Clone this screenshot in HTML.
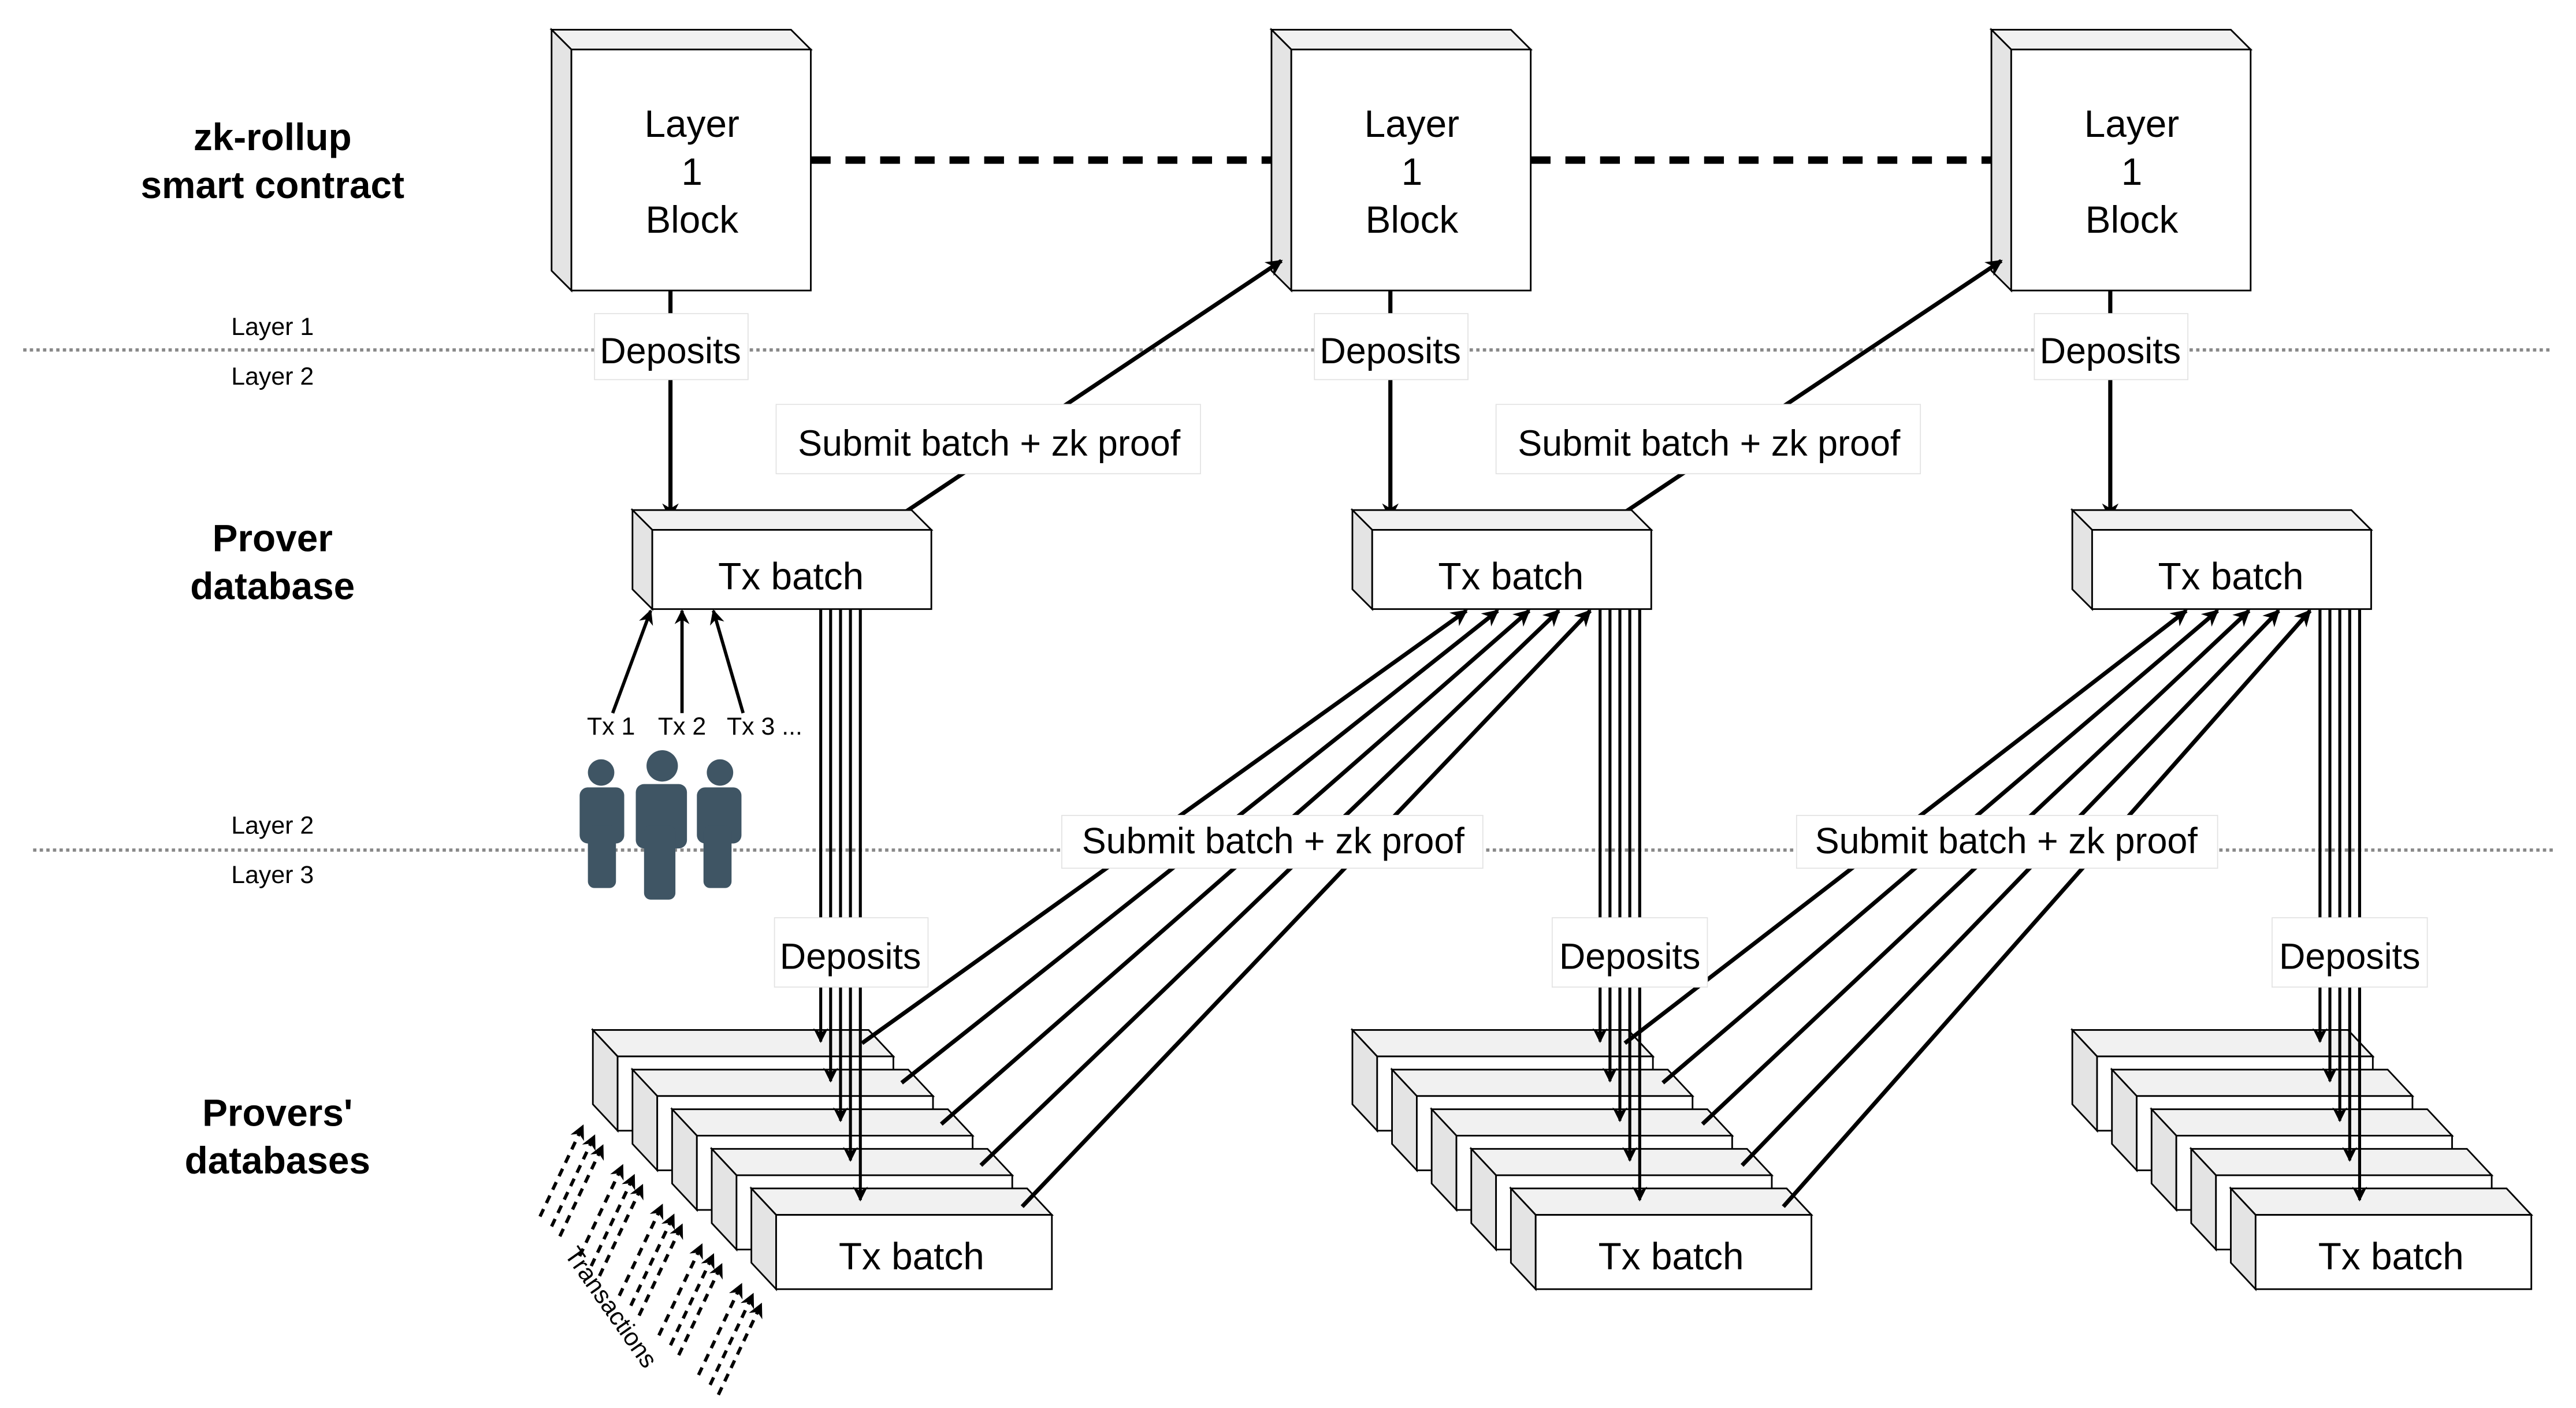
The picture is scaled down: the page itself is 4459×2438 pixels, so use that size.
<!DOCTYPE html>
<html><head><meta charset="utf-8"><style>html,body{margin:0;padding:0;background:#fff}svg{display:block}</style></head>
<body>
<svg xmlns="http://www.w3.org/2000/svg" width="4459" height="2438" viewBox="0 0 1560 853" font-family="Liberation Sans, Arial, sans-serif">
<defs>
<marker id="a" viewBox="0 0 10 10" refX="9" refY="5" markerWidth="10" markerHeight="10" markerUnits="userSpaceOnUse" orient="auto"><path d="M0,0 L10,5 L0,10 L3,5 z" fill="#000"/></marker>
<marker id="as" viewBox="0 0 10 10" refX="9" refY="5" markerWidth="9" markerHeight="9" markerUnits="userSpaceOnUse" orient="auto"><path d="M0,0 L10,5 L0,10 L3,5 z" fill="#000"/></marker>
</defs>
<rect width="1560" height="853" fill="#fff"/>

<!-- dotted layer separators -->
<line x1="14" y1="212" x2="1546" y2="212" stroke="#888" stroke-width="2" stroke-dasharray="2 2"/>
<line x1="20" y1="515" x2="1546" y2="515" stroke="#888" stroke-width="2" stroke-dasharray="2 2"/>

<!-- left headings -->
<g font-weight="bold" font-size="23" text-anchor="middle" fill="#000">
<text x="165" y="91">zk-rollup</text>
<text x="165" y="120">smart contract</text>
<text x="165" y="334">Prover</text>
<text x="165" y="363">database</text>
<text x="168" y="682">Provers'</text>
<text x="168" y="711">databases</text>
</g>
<g font-size="15" text-anchor="middle">
<text x="165" y="203">Layer 1</text>
<text x="165" y="233">Layer 2</text>
<text x="165" y="505">Layer 2</text>
<text x="165" y="535">Layer 3</text>
</g>

<!-- dashed chain -->
<line x1="491" y1="97" x2="773" y2="97" stroke="#000" stroke-width="4.5" stroke-dasharray="12 9"/>
<circle cx="776" cy="97" r="4.5"/>
<line x1="927" y1="97" x2="1209" y2="97" stroke="#000" stroke-width="4.5" stroke-dasharray="12 9"/>
<circle cx="1212" cy="97" r="4.5"/>

<!-- Layer 1 blocks -->
<g stroke="#000" stroke-width="1">
<g>
<polygon points="334,18 479,18 491,30 346,30" fill="#f1f1f1"/>
<polygon points="334,18 346,30 346,176 334,164" fill="#e4e4e4"/>
<rect x="346" y="30" width="145" height="146" fill="#fff"/>
</g>
<g>
<polygon points="770,18 915,18 927,30 782,30" fill="#f1f1f1"/>
<polygon points="770,18 782,30 782,176 770,164" fill="#e4e4e4"/>
<rect x="782" y="30" width="145" height="146" fill="#fff"/>
</g>
<g>
<polygon points="1206,18 1351,18 1363,30 1218,30" fill="#f1f1f1"/>
<polygon points="1206,18 1218,30 1218,176 1206,164" fill="#e4e4e4"/>
<rect x="1218" y="30" width="145" height="146" fill="#fff"/>
</g>
</g>
<g font-size="23" text-anchor="middle">
<text x="419" y="83">Layer</text><text x="419" y="112">1</text><text x="419" y="141">Block</text>
<text x="855" y="83">Layer</text><text x="855" y="112">1</text><text x="855" y="141">Block</text>
<text x="1291" y="83">Layer</text><text x="1291" y="112">1</text><text x="1291" y="141">Block</text>
</g>

<!-- deposits arrows L1 -> prover -->
<g stroke="#000" stroke-width="2.5" marker-end="url(#a)">
<line x1="406" y1="176" x2="406" y2="314"/>
<line x1="842" y1="176" x2="842" y2="314"/>
<line x1="1278" y1="176" x2="1278" y2="314"/>
<line x1="541" y1="315" x2="776" y2="158"/>
<line x1="977" y1="315" x2="1212" y2="158"/>
</g>

<!-- prover Tx batch -->
<g stroke="#000" stroke-width="1">
<g>
<polygon points="383,309 552,309 564,321 395,321" fill="#f1f1f1"/>
<polygon points="383,309 395,321 395,369 383,357" fill="#e4e4e4"/>
<rect x="395" y="321" width="169" height="48" fill="#fff"/>
</g>
<g>
<polygon points="819,309 988,309 1000,321 831,321" fill="#f1f1f1"/>
<polygon points="819,309 831,321 831,369 819,357" fill="#e4e4e4"/>
<rect x="831" y="321" width="169" height="48" fill="#fff"/>
</g>
<g>
<polygon points="1255,309 1424,309 1436,321 1267,321" fill="#f1f1f1"/>
<polygon points="1255,309 1267,321 1267,369 1255,357" fill="#e4e4e4"/>
<rect x="1267" y="321" width="169" height="48" fill="#fff"/>
</g>
</g>
<g font-size="23" text-anchor="middle">
<text x="479" y="357">Tx batch</text>
<text x="915" y="357">Tx batch</text>
<text x="1351" y="357">Tx batch</text>
</g>

<!-- labels upper -->
<g fill="#fff" stroke="#e2e2e2" stroke-width="0.6">
<rect x="360" y="190" width="93" height="40"/>
<rect x="796" y="190" width="93" height="40"/>
<rect x="1232" y="190" width="93" height="40"/>
<rect x="470" y="245" width="257" height="42"/>
<rect x="906" y="245" width="257" height="42"/>
</g>
<g font-size="22" text-anchor="middle">
<text x="406" y="220">Deposits</text>
<text x="842" y="220">Deposits</text>
<text x="1278" y="220">Deposits</text>
<text x="599" y="276">Submit batch + zk proof</text>
<text x="1035" y="276">Submit batch + zk proof</text>
</g>

<!-- Tx arrows & users -->
<g stroke="#000" stroke-width="2" marker-end="url(#as)">
<line x1="371" y1="432" x2="394" y2="370"/>
<line x1="413" y1="432" x2="413" y2="370"/>
<line x1="450" y1="432" x2="432" y2="370"/>
</g>
<g font-size="15" text-anchor="middle">
<text x="370" y="445">Tx 1</text>
<text x="413" y="445">Tx 2</text>
<text x="463" y="445">Tx 3 ...</text>
</g>
<g fill="#3f5564">
<circle cx="364" cy="468" r="8"/>
<rect x="351" y="477" width="27" height="34" rx="5"/>
<rect x="356" y="500" width="17" height="38" rx="4"/>
<circle cx="401" cy="464" r="9.5"/>
<rect x="385" y="475" width="31" height="39" rx="5"/>
<rect x="390" y="500" width="19" height="45" rx="4"/>
<circle cx="436" cy="468" r="8"/>
<rect x="422" y="477" width="27" height="34" rx="5"/>
<rect x="426" y="500" width="17" height="38" rx="4"/>
</g>

<!-- stacked boxes: template per column -->
<g stroke="#000" stroke-width="1">
<!-- col1 -->
<g transform="translate(359,624)"><polygon points="0,0 167,0 182,16 15,16" fill="#f1f1f1"/><polygon points="0,0 15,16 15,61 0,45" fill="#e4e4e4"/><rect x="15" y="16" width="167" height="45" fill="#fff"/></g>
<g transform="translate(383,648)"><polygon points="0,0 167,0 182,16 15,16" fill="#f1f1f1"/><polygon points="0,0 15,16 15,61 0,45" fill="#e4e4e4"/><rect x="15" y="16" width="167" height="45" fill="#fff"/></g>
<g transform="translate(407,672)"><polygon points="0,0 167,0 182,16 15,16" fill="#f1f1f1"/><polygon points="0,0 15,16 15,61 0,45" fill="#e4e4e4"/><rect x="15" y="16" width="167" height="45" fill="#fff"/></g>
<g transform="translate(431,696)"><polygon points="0,0 167,0 182,16 15,16" fill="#f1f1f1"/><polygon points="0,0 15,16 15,61 0,45" fill="#e4e4e4"/><rect x="15" y="16" width="167" height="45" fill="#fff"/></g>
<g transform="translate(455,720)"><polygon points="0,0 167,0 182,16 15,16" fill="#f1f1f1"/><polygon points="0,0 15,16 15,61 0,45" fill="#e4e4e4"/><rect x="15" y="16" width="167" height="45" fill="#fff"/></g>
<!-- col2 -->
<g transform="translate(819,624)"><polygon points="0,0 167,0 182,16 15,16" fill="#f1f1f1"/><polygon points="0,0 15,16 15,61 0,45" fill="#e4e4e4"/><rect x="15" y="16" width="167" height="45" fill="#fff"/></g>
<g transform="translate(843,648)"><polygon points="0,0 167,0 182,16 15,16" fill="#f1f1f1"/><polygon points="0,0 15,16 15,61 0,45" fill="#e4e4e4"/><rect x="15" y="16" width="167" height="45" fill="#fff"/></g>
<g transform="translate(867,672)"><polygon points="0,0 167,0 182,16 15,16" fill="#f1f1f1"/><polygon points="0,0 15,16 15,61 0,45" fill="#e4e4e4"/><rect x="15" y="16" width="167" height="45" fill="#fff"/></g>
<g transform="translate(891,696)"><polygon points="0,0 167,0 182,16 15,16" fill="#f1f1f1"/><polygon points="0,0 15,16 15,61 0,45" fill="#e4e4e4"/><rect x="15" y="16" width="167" height="45" fill="#fff"/></g>
<g transform="translate(915,720)"><polygon points="0,0 167,0 182,16 15,16" fill="#f1f1f1"/><polygon points="0,0 15,16 15,61 0,45" fill="#e4e4e4"/><rect x="15" y="16" width="167" height="45" fill="#fff"/></g>
<!-- col3 -->
<g transform="translate(1255,624)"><polygon points="0,0 167,0 182,16 15,16" fill="#f1f1f1"/><polygon points="0,0 15,16 15,61 0,45" fill="#e4e4e4"/><rect x="15" y="16" width="167" height="45" fill="#fff"/></g>
<g transform="translate(1279,648)"><polygon points="0,0 167,0 182,16 15,16" fill="#f1f1f1"/><polygon points="0,0 15,16 15,61 0,45" fill="#e4e4e4"/><rect x="15" y="16" width="167" height="45" fill="#fff"/></g>
<g transform="translate(1303,672)"><polygon points="0,0 167,0 182,16 15,16" fill="#f1f1f1"/><polygon points="0,0 15,16 15,61 0,45" fill="#e4e4e4"/><rect x="15" y="16" width="167" height="45" fill="#fff"/></g>
<g transform="translate(1327,696)"><polygon points="0,0 167,0 182,16 15,16" fill="#f1f1f1"/><polygon points="0,0 15,16 15,61 0,45" fill="#e4e4e4"/><rect x="15" y="16" width="167" height="45" fill="#fff"/></g>
<g transform="translate(1351,720)"><polygon points="0,0 167,0 182,16 15,16" fill="#f1f1f1"/><polygon points="0,0 15,16 15,61 0,45" fill="#e4e4e4"/><rect x="15" y="16" width="167" height="45" fill="#fff"/></g>
</g>
<g font-size="23" text-anchor="middle">
<text x="552" y="769">Tx batch</text>
<text x="1012" y="769">Tx batch</text>
<text x="1448" y="769">Tx batch</text>
</g>

<!-- vertical deposit lines -->
<g stroke="#000" stroke-width="1.8" marker-end="url(#as)">
<line x1="497" y1="369" x2="497" y2="631"/>
<line x1="503" y1="369" x2="503" y2="655"/>
<line x1="509" y1="369" x2="509" y2="679"/>
<line x1="515" y1="369" x2="515" y2="703"/>
<line x1="521" y1="369" x2="521" y2="727"/>
<line x1="969" y1="369" x2="969" y2="631"/>
<line x1="975" y1="369" x2="975" y2="655"/>
<line x1="981" y1="369" x2="981" y2="679"/>
<line x1="987" y1="369" x2="987" y2="703"/>
<line x1="993" y1="369" x2="993" y2="727"/>
<line x1="1405" y1="369" x2="1405" y2="631"/>
<line x1="1411" y1="369" x2="1411" y2="655"/>
<line x1="1417" y1="369" x2="1417" y2="679"/>
<line x1="1423" y1="369" x2="1423" y2="703"/>
<line x1="1429" y1="369" x2="1429" y2="727"/>
</g>

<!-- diagonal submit arrows -->
<g stroke="#000" stroke-width="2.5" marker-end="url(#a)">
<line x1="522" y1="632" x2="888" y2="370"/>
<line x1="546" y1="656" x2="907" y2="370"/>
<line x1="570" y1="681" x2="926" y2="370"/>
<line x1="594" y1="706" x2="944" y2="370"/>
<line x1="619" y1="731" x2="963" y2="370"/>
<line x1="984" y1="632" x2="1324" y2="370"/>
<line x1="1007" y1="656" x2="1343" y2="370"/>
<line x1="1031" y1="681" x2="1362" y2="370"/>
<line x1="1055" y1="706" x2="1380" y2="370"/>
<line x1="1080" y1="731" x2="1399" y2="370"/>
</g>

<!-- lower labels -->
<g fill="#fff" stroke="#e2e2e2" stroke-width="0.6">
<rect x="469" y="556" width="93" height="42"/>
<rect x="940" y="556" width="94" height="42"/>
<rect x="1376" y="556" width="94" height="42"/>
<rect x="643" y="494" width="255" height="32"/>
<rect x="1088" y="494" width="255" height="32"/>
</g>
<g font-size="22" text-anchor="middle">
<text x="515" y="587">Deposits</text>
<text x="987" y="587">Deposits</text>
<text x="1423" y="587">Deposits</text>
<text x="771" y="517">Submit batch + zk proof</text>
<text x="1215" y="517">Submit batch + zk proof</text>
</g>

<!-- transactions dashed arrows -->
<g stroke="#000" stroke-width="2" stroke-dasharray="5 4" marker-end="url(#as)">
<line x1="327" y1="737" x2="353" y2="682"/><line x1="334" y1="743" x2="360" y2="688"/><line x1="339" y1="749" x2="365" y2="694"/>
<line x1="351" y1="761" x2="377" y2="706"/><line x1="358" y1="767" x2="384" y2="712"/><line x1="363" y1="773" x2="389" y2="718"/>
<line x1="375" y1="785" x2="401" y2="730"/><line x1="382" y1="791" x2="408" y2="736"/><line x1="387" y1="797" x2="413" y2="742"/>
<line x1="399" y1="809" x2="425" y2="754"/><line x1="406" y1="815" x2="432" y2="760"/><line x1="411" y1="821" x2="437" y2="766"/>
<line x1="423" y1="833" x2="449" y2="778"/><line x1="430" y1="839" x2="456" y2="784"/><line x1="435" y1="845" x2="461" y2="790"/>
</g>
<text x="370" y="797" font-size="15" text-anchor="middle" transform="rotate(55 370 792)">Transactions</text>
</svg>
</body></html>
